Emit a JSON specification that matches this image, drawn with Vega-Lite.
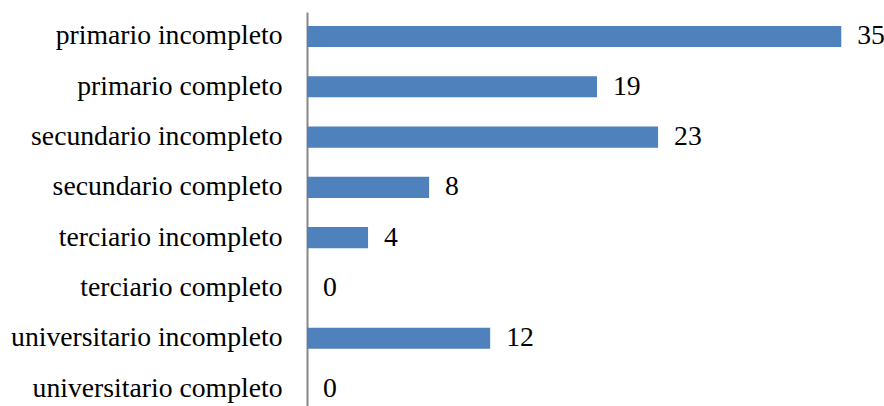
{
  "$schema": "https://vega.github.io/schema/vega-lite/v6.json",
  "width": 577,
  "height": 394,
  "autosize": {"type": "none"},
  "padding": {"left": 307, "top": 12, "right": 0, "bottom": 0},
  "background": "white",
  "config": {"view": {"stroke": null}, "font": "Liberation Serif"},
  "data": {
    "values": [
      {"nivel": "primario incompleto", "n": 35},
      {"nivel": "primario completo", "n": 19},
      {"nivel": "secundario incompleto", "n": 23},
      {"nivel": "secundario completo", "n": 8},
      {"nivel": "terciario incompleto", "n": 4},
      {"nivel": "terciario completo", "n": 0},
      {"nivel": "universitario incompleto", "n": 12},
      {"nivel": "universitario completo", "n": 0}
    ]
  },
  "encoding": {
    "y": {
      "field": "nivel",
      "type": "nominal",
      "sort": null,
      "scale": {"paddingInner": 0.58, "paddingOuter": 0.206, "align": 0.67},
      "axis": {
        "title": null,
        "ticks": false,
        "tickSize": 0,
        "labelPadding": 25,
        "labelFont": "Liberation Serif",
        "labelFontSize": 27.7,
        "labelColor": "#000000",
        "labelLimit": 400,
        "domainColor": "#878787",
        "domainWidth": 2,
        "grid": false
      }
    },
    "x": {
      "field": "n",
      "type": "quantitative",
      "scale": {"domain": [0, 37.8], "nice": false, "zero": true},
      "axis": null
    }
  },
  "layer": [
    {"mark": {"type": "bar", "color": "#4F81BD"}},
    {
      "mark": {
        "type": "text",
        "align": "left",
        "baseline": "middle",
        "dx": 16,
        "font": "Liberation Serif",
        "fontSize": 27.7,
        "color": "#000000"
      },
      "encoding": {"text": {"field": "n", "type": "quantitative"}}
    }
  ]
}
